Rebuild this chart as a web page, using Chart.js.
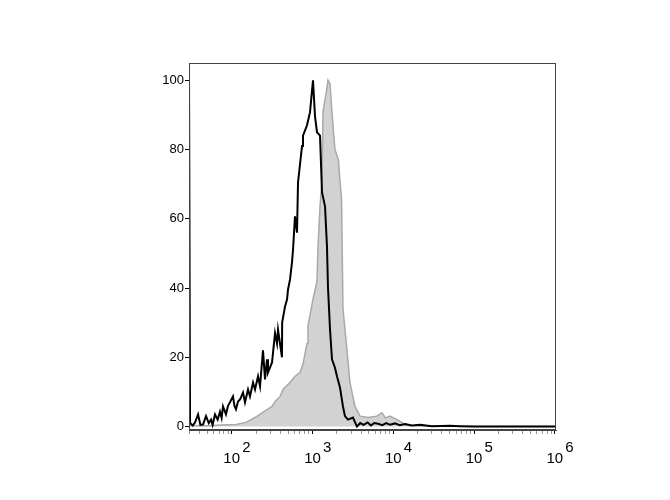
<!DOCTYPE html>
<html>
<head>
<meta charset="utf-8">
<script src="https://cdn.jsdelivr.net/npm/chart.js@4/dist/chart.umd.min.js"></script>
<style>
  html, body { margin: 0; padding: 0; background: #fff; }
  #wrap { width: 670px; height: 500px; position: relative; }
</style>
</head>
<body>
<div id="wrap"><canvas id="c" width="670" height="500"></canvas></div>
<script>
// Fluorescence intensity (x) and % of max (y)
const blackX = [29.6, 30.5, 33, 35.2, 38.3, 41, 44.2, 48.1, 52, 55.5, 58, 62.1, 67, 71.6, 75, 78, 84.9, 90, 95.2, 103.7, 108, 113, 119.7, 126.7, 138, 146, 159.2, 168.4, 183.6, 194.3, 211.7, 224.1, 243.9, 258.3, 273.5, 281.3, 315.5, 343.6, 363.9, 374.3, 419, 421, 457, 483.6, 497.9, 527, 557.4, 573.7, 607.3, 643.3, 661.7, 741.7, 762.6, 855.1, 931.5, 1014, 1074, 1137, 1239, 1312, 1429, 1511, 1556, 1648, 1743, 1897, 2009, 2188, 2383, 2523, 2748, 3170, 3555, 3900, 4300, 4800, 5300, 5800, 6500, 7300, 8200, 9100, 10500, 12000, 14000, 17000, 21400, 30000, 50000, 67000, 100000, 1033000];
const blackY = [103, 1, 0.3, 1.2, 3.5, 0.5, 0.6, 3, 1, 2, 0.5, 3.5, 2, 4.3, 2.5, 5.8, 3.5, 6, 7, 8.7, 6, 5, 7.2, 7.8, 9.8, 7, 10.7, 8.7, 12.7, 10.7, 14.5, 11.6, 22, 13.6, 19.4, 15.6, 18.5, 27, 24, 28, 20, 30, 34.7, 36.7, 39.6, 42.5, 47.4, 51, 60.7, 56, 70.5, 81, 84, 87, 90.8, 100, 89.6, 85, 84, 67.6, 63.6, 52, 40, 28, 19.4, 17, 14.5, 11.3, 5.8, 3, 2, 2.6, 0, 1, 0.5, 1.2, 0.3, 1, 0.8, 0.4, 1, 0.5, 0.9, 0.4, 0.7, 0.3, 0.5, 0.1, 0.2, 0.1, 0, 0];

const grayX = [29.6, 50, 84.9, 113, 150, 194.3, 240, 280, 315, 353, 397, 431, 527, 607, 700, 762, 855, 879, 1014, 1137, 1170, 1239, 1312, 1349, 1480, 1556, 1648, 1720, 1820, 1897, 2090, 2188, 2290, 2383, 2672, 2909, 3357, 3873, 4867, 6286, 7250, 8000, 9100, 11120, 12110, 14790, 20000, 100000, 1033000];
const grayY = [0.3, 0.2, 0.5, 0.6, 1.2, 2.6, 4, 5, 5.8, 7.5, 8.7, 10.7, 12.7, 14.5, 15.6, 18, 24, 29, 36.7, 42, 52, 63.6, 71, 90.8, 96.5, 100, 99, 92.5, 85, 80, 77, 71, 65.6, 34, 22, 12.7, 5.8, 3, 2.6, 3, 4, 2.5, 3, 2, 1.5, 0.3, 0.2, 0, 0];

const yTickValues = [0, 20, 40, 60, 80, 100];
const xMajorValues = [100, 1000, 10000, 100000, 1000000];
const xExponents = ['2', '3', '4', '5', '6'];

const FONT = "'Liberation Sans', Arial, sans-serif";

const framePlugin = {
  id: 'frame',
  afterDraw(chart) {
    const a = chart.chartArea, ctx = chart.ctx;
    ctx.save();
    ctx.strokeStyle = '#444';
    ctx.lineWidth = 1;
    ctx.strokeRect(a.left + 0.5, a.top + 0.5, a.right - a.left - 1, a.bottom - a.top - 1);
    ctx.restore();
  }
};

new Chart(document.getElementById('c'), {
  type: 'line',
  data: {
    datasets: [
      {
        label: 'Sample',
        data: blackX.map((x, i) => ({ x: x, y: blackY[i] })),
        borderColor: '#000000',
        borderWidth: 2,
        pointRadius: 0,
        fill: false,
        tension: 0,
        order: 0
      },
      {
        label: 'Control',
        data: grayX.map((x, i) => ({ x: x, y: grayY[i] })),
        borderColor: '#a9a9a9',
        backgroundColor: '#d2d2d2',
        borderWidth: 1.5,
        pointRadius: 0,
        fill: 'origin',
        tension: 0,
        order: 1
      }
    ]
  },
  options: {
    responsive: false,
    animation: false,
    devicePixelRatio: 1,
    layout: { padding: { top: 63, right: 114, left: 0, bottom: 0 } },
    plugins: { legend: { display: false }, tooltip: { enabled: false } },
    scales: {
      x: {
        type: 'logarithmic',
        min: 29.6,
        max: 1033000,
        afterBuildTicks(scale) {
          const t = [];
          for (let e = 1; e <= 6; e++) {
            for (let m = 1; m <= 9; m++) {
              const v = m * Math.pow(10, e);
              if (v >= 29.6 && v <= 1033000) t.push({ value: v, major: m === 1 });
            }
          }
          scale.ticks = t;
        },
        afterFit(scale) { scale.height = 70; },
        grid: {
          drawOnChartArea: false,
          tickLength: 4,
          tickColor: (ctx) => (ctx.tick && ctx.tick.major ? '#000' : '#999'),
          tickWidth: 1
        },
        border: { display: true, color: '#444', width: 1 },
        ticks: {
          autoSkip: false,
          maxRotation: 0,
          minRotation: 0,
          padding: 9,
          color: '#000',
          font: { family: FONT, size: 15, lineHeight: 0.7 },
          callback(value) {
            const idx = xMajorValues.indexOf(value);
            if (idx < 0) return '';
            return ['       ' + xExponents[idx], '10'];
          }
        }
      },
      y: {
        type: 'linear',
        min: -1,
        max: 105,
        afterBuildTicks(scale) {
          scale.ticks = yTickValues.map(v => ({ value: v }));
        },
        afterFit(scale) { scale.width = 189; },
        grid: {
          drawOnChartArea: false,
          tickLength: 4,
          tickColor: '#000'
        },
        border: { display: true, color: '#444', width: 1 },
        ticks: {
          padding: 1,
          color: '#000',
          font: { family: FONT, size: 13 },
          callback: (v) => String(v)
        }
      }
    }
  },
  plugins: [framePlugin]
});
</script>
</body>
</html>
